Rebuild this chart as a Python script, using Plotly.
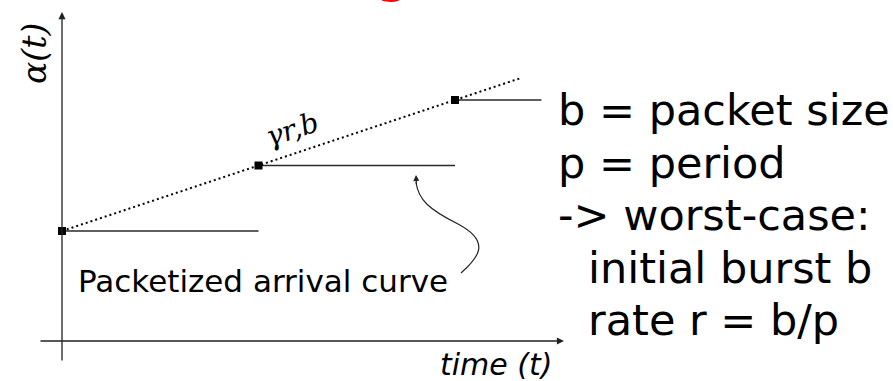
import plotly.graph_objects as go

# ---------------- data ----------------
packet_times = [0, 1, 2]          # arrival instants (in periods p)
packet_levels = [1, 2, 3]         # cumulative data (in packet sizes b)
step_ends = [1, 2, 2.44]          # end of each horizontal step
rate_line_t = [0, 2.336]          # extent of the gamma_{r,b} line
burst_b = 1
rate_r = 1                        # r = b / p

right_lines = ["b = packet size", "p = period", "-> worst-case:",
               "initial burst b", "rate r = b/p"]
right_indent = [False, False, False, True, True]

W, H = 893, 381

# pixel <-> data scale (layout)
X0_PX, X_PER = 62, 196.5
Y1_PX, Y_PER = 231, 65.5
x_range = [-X0_PX / X_PER, (W - X0_PX) / X_PER]
y_range = [1 - (H - Y1_PX) / Y_PER, 1 + Y1_PX / Y_PER]


def P(px, py):
    return px / W, 1 - py / H


fig = go.Figure()

# packetized staircase
sx, sy = [], []
for t, n, e in zip(packet_times, packet_levels, step_ends):
    sx += [t, e, None]
    sy += [n, n, None]
fig.add_trace(go.Scatter(x=sx, y=sy, mode="lines",
                         line=dict(color="#2a2a2a", width=1.3),
                         hoverinfo="skip", showlegend=False))

# gamma_{r,b} dotted line
fig.add_trace(go.Scatter(x=rate_line_t,
                         y=[burst_b + rate_r * t for t in rate_line_t],
                         mode="lines",
                         line=dict(color="black", width=2, dash="2px,3px"),
                         hoverinfo="skip", showlegend=False))

# packet arrival markers
fig.add_trace(go.Scatter(x=packet_times, y=packet_levels, mode="markers",
                         marker=dict(symbol="square", size=8, color="black",
                                     line=dict(width=0)),
                         hoverinfo="skip", showlegend=False))

ann = []

# axes with arrows
def arrow(tip, tail, width=1.3, size=1.1):
    x, y = P(*tip)
    ann.append(dict(x=x, y=y, xref="paper", yref="paper", text="",
                    showarrow=True, ax=tail[0] - tip[0], ay=tail[1] - tip[1],
                    axref="pixel", ayref="pixel",
                    arrowhead=2, arrowsize=size, arrowwidth=width,
                    arrowcolor="#222", standoff=0, startstandoff=0))

arrow((62, 12), (62, 362))
arrow((564, 341), (39, 341))

# text labels
def label(text, px, py, size, family="DejaVu Sans", color="black",
          xanchor="center", yanchor="middle", angle=0):
    x, y = P(px, py)
    ann.append(dict(x=x, y=y, xref="paper", yref="paper", text=text,
                    showarrow=False, xanchor=xanchor, yanchor=yanchor,
                    textangle=angle,
                    font=dict(family=family, size=size, color=color)))

label("<i>α(t)</i>", 35, 54, 33, family="DejaVu Serif", angle=-90)
label("<i>γr,b</i>", 292, 129, 28, family="DejaVu Serif", angle=-18)
label("Packetized arrival curve", 76, 281, 31, xanchor="left")
label("<i>time (t)</i>", 438, 364, 30, xanchor="left")

RIGHT_X, FIRST_BASE, LINE_STEP, RSIZE = 556, 123, 52.5, 43
for i, (txt, ind) in enumerate(zip(right_lines, right_indent)):
    base = FIRST_BASE + i * LINE_STEP
    label(txt, RIGHT_X + (30 if ind else 0), base - 0.3 * RSIZE, RSIZE,
          xanchor="left")

# red title descender peeking in at the top
label("g", 393, 5, 56, color="red", yanchor="bottom")

# curved pointer from the label to the middle step
pts = [(461, 273), (478, 258), (492, 242), (458, 224),
       (430, 210), (418, 200), (416, 182)]
c = [P(*p) for p in pts]
path = "M {},{} C {},{} {},{} {},{} C {},{} {},{} {},{}".format(
    *[v for p in c for v in p])
shapes = [dict(type="path", path=path, xref="paper", yref="paper",
               line=dict(color="#222", width=1.2))]
arrow((416, 175), (416.5, 186), width=1.2, size=1.0)

fig.update_layout(
    width=W, height=H,
    margin=dict(l=0, r=0, t=0, b=0),
    paper_bgcolor="white", plot_bgcolor="white",
    xaxis=dict(range=x_range, visible=False, fixedrange=True),
    yaxis=dict(range=y_range, visible=False, fixedrange=True),
    annotations=ann, shapes=shapes, showlegend=False,
)

fig.write_html("out.html",
               config={"displayModeBar": False},
               post_script="document.body.style.margin='0';"
                           "document.body.style.padding='0';")
